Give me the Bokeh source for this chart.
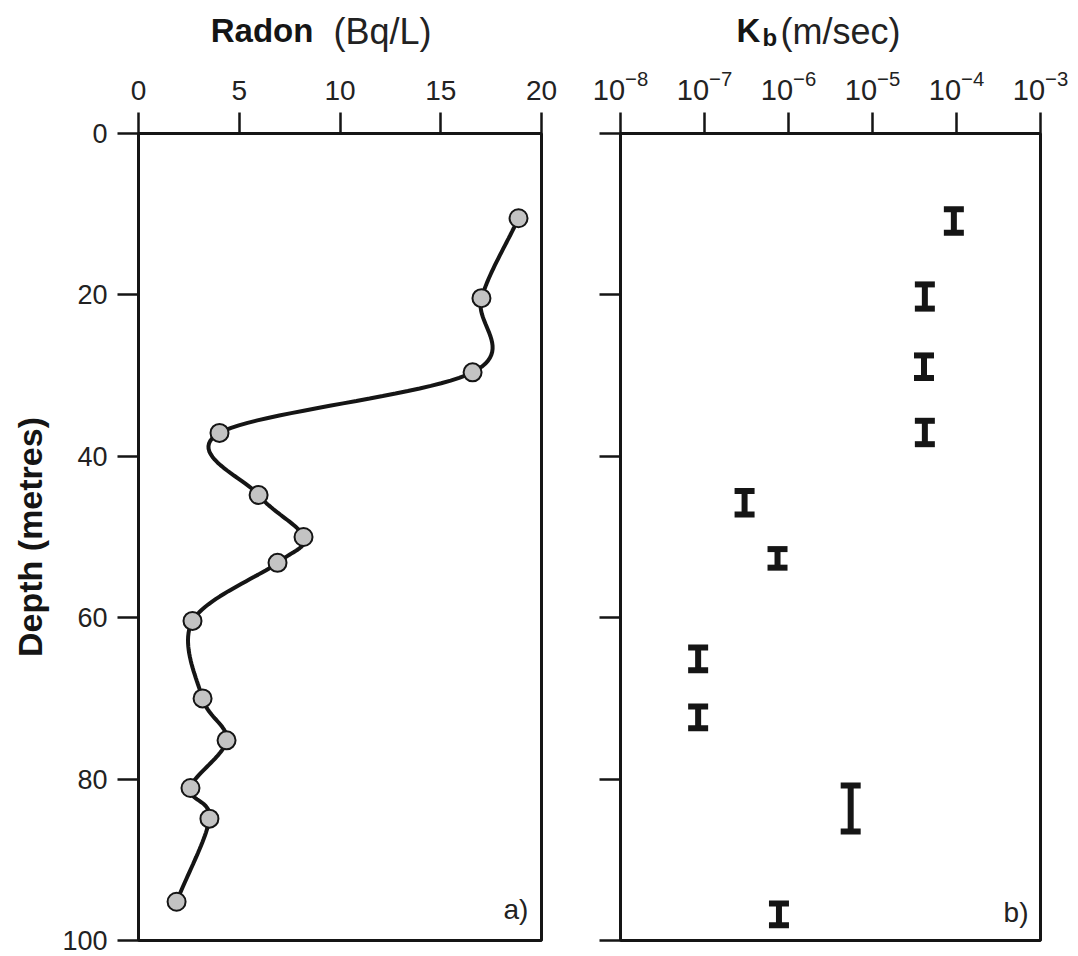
import numpy as np
from bokeh.plotting import figure
from bokeh.layouts import row, column
from bokeh.models import (Range1d, FixedTicker, Whisker, TeeHead, Label,
                          ColumnDataSource, CustomJSTickFormatter, LogTickFormatter)
from bokeh.core.properties import value
from bokeh.embed import file_html
from bokeh.resources import INLINE

# ---------------- data ----------------
radon_bq = [18.86, 17.02, 16.58, 4.02, 5.96, 8.19, 6.90, 2.68, 3.18, 4.37, 2.58, 3.52, 1.89]
radon_depth = [10.5, 20.4, 29.6, 37.1, 44.8, 50.0, 53.2, 60.4, 70.0, 75.2, 81.1, 84.9, 95.2]

kb_value = [9.3e-5, 4.2e-5, 4.1e-5, 4.2e-5, 3.0e-7, 7.4e-7, 8.4e-8, 8.4e-8, 5.5e-6, 7.7e-7]
kb_depth_top = [9.4, 18.7, 27.5, 35.6, 44.3, 51.5, 63.7, 71.0, 80.8, 95.4]
kb_depth_bottom = [12.3, 21.7, 30.3, 38.5, 47.2, 53.8, 66.5, 73.7, 86.5, 98.1]

radon_ticks = [0, 5, 10, 15, 20]
depth_ticks = [0, 20, 40, 60, 80, 100]
kb_ticks = [1e-8, 1e-7, 1e-6, 1e-5, 1e-4, 1e-3]

FONT = "Liberation Sans"
INK = "#151515"
TXT = "#222222"

STRIP_H = 66
BOTTOM = 16


def catmull_rom(xs, ys, n=24):
    """Smooth curve through the measured points (uniform Catmull-Rom)."""
    P = np.column_stack([xs, ys]).astype(float)
    P = np.vstack([2 * P[0] - P[1], P, 2 * P[-1] - P[-2]])
    out = []
    for i in range(1, len(P) - 2):
        p0, p1, p2, p3 = P[i - 1], P[i], P[i + 1], P[i + 2]
        m1 = (p2 - p0) / 2.0
        m2 = (p3 - p1) / 2.0
        t = np.linspace(0, 1, n, endpoint=False)[:, None]
        h00 = 2 * t**3 - 3 * t**2 + 1
        h10 = t**3 - 2 * t**2 + t
        h01 = -2 * t**3 + 3 * t**2
        h11 = t**3 - t**2
        out.append(h00 * p1 + h10 * m1 + h01 * p2 + h11 * m2)
    out.append(P[-2][None, :])
    c = np.vstack(out)
    return c[:, 0], c[:, 1]


def style_frame(p):
    p.grid.visible = False
    p.outline_line_color = INK
    p.outline_line_width = 3
    p.background_fill_color = "white"
    p.border_fill_color = "white"


def style_axis(ax, font_size="28px", standoff=10):
    ax.axis_line_width = 3
    ax.axis_line_color = INK
    ax.major_tick_out = 21
    ax.major_tick_in = 0
    ax.major_tick_line_width = 2.5
    ax.major_tick_line_color = INK
    ax.minor_tick_line_color = None
    ax.major_label_text_font = FONT
    ax.major_label_text_font_size = font_size
    ax.major_label_text_color = TXT
    ax.major_label_standoff = standoff


def title_strip(width, x_range, border_left, border_right, log=False):
    kw = dict(x_axis_type="log") if log else {}
    s = figure(width=width, height=STRIP_H, x_range=x_range, y_range=Range1d(STRIP_H, 0),
               min_border_left=border_left, min_border_right=border_right,
               min_border_top=0, min_border_bottom=0, title=None,
               x_axis_location=None, y_axis_location=None,
               output_backend="svg", toolbar_location=None, **kw)
    s.grid.visible = False
    s.outline_line_color = None
    s.background_fill_color = "white"
    s.border_fill_color = "white"
    return s


# ---------------- left panel: Radon ----------------
p1 = figure(width=561, height=(132 - STRIP_H) + 808 + BOTTOM, x_range=Range1d(0, 20),
            y_range=Range1d(100, 0), x_axis_location="above",
            min_border_left=138, min_border_right=20,
            min_border_top=132 - STRIP_H, min_border_bottom=BOTTOM,
            output_backend="svg", toolbar_location=None)
style_frame(p1)

xa = p1.xaxis[0]
xa.ticker = FixedTicker(ticks=radon_ticks)
ya = p1.yaxis[0]
ya.ticker = FixedTicker(ticks=depth_ticks)
style_axis(xa, standoff=13)
style_axis(ya, font_size="27px")
ya.axis_label = "Depth (metres)"
ya.axis_label_text_font = FONT
ya.axis_label_text_font_style = "bold"
ya.axis_label_text_font_size = "34px"
ya.axis_label_text_color = INK
ya.axis_label_standoff = 10

cx, cy = catmull_rom(radon_bq, radon_depth)
p1.line(cx, cy, line_width=4, line_color=INK)
p1.scatter(radon_bq, radon_depth, size=18, fill_color="#c3c3c3",
           line_color=INK, line_width=2)

p1.add_layout(Label(x=19.35, y=98.1, text="a)", text_align="right",
                    text_font=FONT, text_font_size="28px", text_color=TXT))

t1 = title_strip(561, p1.x_range, 138, 20)
t1.text(x=[8.68], y=[30], text=["Radon"], text_align="right", text_baseline="alphabetic",
        text_font=value(FONT), text_font_style="bold", text_font_size=value("33px"),
        text_color=INK)
t1.text(x=[9.68], y=[31], text=["(Bq/L)"], text_align="left", text_baseline="alphabetic",
        text_font=value(FONT), text_font_size=value("36px"), text_color=TXT)

# ---------------- right panel: Kb ----------------
p2 = figure(width=514, height=(132 - STRIP_H) + 808 + BOTTOM, x_axis_type="log",
            x_range=Range1d(1e-8, 1e-3), y_range=Range1d(100, 0), x_axis_location="above",
            min_border_left=59, min_border_right=35, min_border_top=132 - STRIP_H,
            min_border_bottom=BOTTOM, output_backend="svg", toolbar_location=None)
style_frame(p2)

xb = p2.xaxis[0]
xb.ticker = FixedTicker(ticks=kb_ticks)
xb.formatter = LogTickFormatter(min_exponent=0)
style_axis(xb, "29px", standoff=13)
yb = p2.yaxis[0]
yb.ticker = FixedTicker(ticks=depth_ticks)
style_axis(yb, standoff=0)
yb.formatter = CustomJSTickFormatter(code="return ''")

src = ColumnDataSource(dict(k=kb_value, lo=kb_depth_top, hi=kb_depth_bottom))
wh = Whisker(base="k", lower="lo", upper="hi", dimension="height", source=src,
             line_width=6, line_color=INK,
             lower_head=TeeHead(size=20, line_width=6, line_color=INK),
             upper_head=TeeHead(size=20, line_width=6, line_color=INK))
p2.add_layout(wh)

p2.add_layout(Label(x=10**-3.143, y=98.4, text="b)", text_align="right",
                    text_font=FONT, text_font_size="28px", text_color=TXT))

t2 = title_strip(514, p2.x_range, 59, 35, log=True)
t2.text(x=[10**-6.619], y=[30], text=["K"], text_align="left", text_baseline="alphabetic",
        text_font=value(FONT), text_font_style="bold", text_font_size=value("33px"),
        text_color=INK)
t2.text(x=[10**-6.31], y=[37], text=["b"], text_align="left", text_baseline="alphabetic",
        text_font=value(FONT), text_font_style="bold", text_font_size=value("24px"),
        text_color=INK)
t2.text(x=[10**-6.095], y=[31], text=["(m/sec)"], text_align="left", text_baseline="alphabetic",
        text_font=value(FONT), text_font_size=value("36px"), text_color=TXT)

layout = column(row(t1, t2, spacing=0), row(p1, p2, spacing=0), spacing=0)
open("out.html", "w").write(file_html(layout, INLINE))
